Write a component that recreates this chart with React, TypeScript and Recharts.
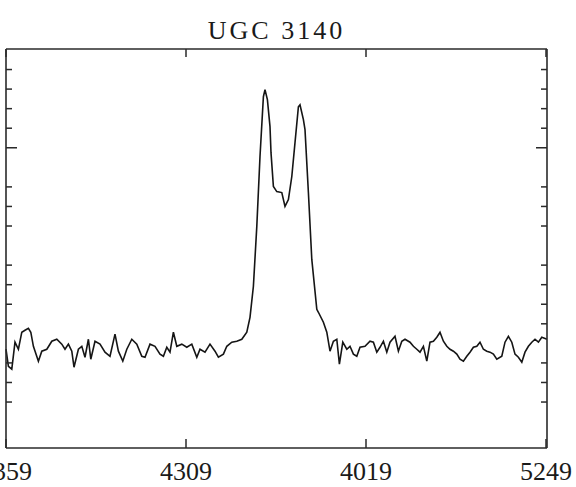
import { LineChart, Line, XAxis, YAxis } from "recharts";

// spectrum samples: channel position and flux (arbitrary units)
const channels = [
  0, 1.2, 2.9, 4.5, 6.2, 7.9, 9.5, 11.2, 12.4, 13.7, 16.2, 17.9, 20.4, 22.9, 25.4, 27.9, 29.5, 31.2, 32.9, 34.0,
  36.2, 37.9, 39.5, 41.2, 42.4, 44.5, 47.0, 49.5, 52.0, 54.5, 56.2, 58.4, 60.4, 62.9, 65.4, 67.9, 69.5, 72.0, 74.5, 77.0,
  78.7, 80.4, 82.0, 83.7, 85.4, 87.9, 90.4, 92.9, 95.4, 97.0, 99.5, 102.0, 104.5, 106.2, 108.7, 110.4, 112.9, 115.4, 117.9, 120.4,
  122.0, 123.7, 125.4, 127.0, 128.7, 129.5, 130.7, 132.0, 132.5, 133.7, 135.4, 137.9, 139.5, 141.2, 142.9, 144.5, 146.2, 147.0, 148.7, 149.5,
  151.2, 152.9, 155.4, 156.2, 158.7, 160.4, 162.0, 163.7, 165.4, 166.7, 168.4, 170.4, 172.0, 173.7, 175.4, 177.0, 179.5, 182.0, 183.7, 185.4,
  187.0, 188.7, 190.4, 192.0, 194.5, 196.2, 197.9, 199.5, 202.0, 203.7, 205.4, 207.0, 208.7, 210.4, 212.0, 213.7, 215.4, 217.0, 218.7, 220.4,
  222.0, 223.7, 225.4, 227.0, 228.7, 230.4, 232.0, 233.7, 235.4, 237.0, 238.7, 240.4, 242.0, 243.7, 245.4, 247.9, 249.5, 251.2, 252.9, 254.5,
  256.2, 257.9, 259.5, 261.2, 262.9, 264.5, 266.2, 267.9, 270.5,
];

const flux = [
  2.70, 1.83, 1.68, 3.06, 2.70, 3.57, 3.67, 3.77, 3.57, 2.85, 2.09, 2.60, 2.70, 3.11, 3.21, 2.96, 2.70, 2.96, 2.60, 1.78,
  2.70, 2.85, 2.29, 3.21, 2.19, 3.11, 2.96, 2.55, 2.34, 3.47, 2.60, 2.09, 2.70, 3.21, 2.96, 2.34, 2.29, 2.96, 2.85, 2.45,
  2.34, 2.80, 2.55, 3.57, 2.85, 2.96, 2.80, 2.96, 2.29, 2.70, 2.55, 2.96, 2.60, 2.29, 2.45, 2.85, 3.06, 3.11, 3.21, 3.57,
  4.33, 5.92, 8.98, 12.55, 15.61, 15.97, 15.46, 14.08, 12.75, 11.02, 10.76, 10.71, 10.00, 10.35, 11.53, 13.26, 15.10, 15.20, 14.44, 13.93,
  10.71, 7.29, 4.74, 4.59, 4.08, 3.57, 2.60, 3.11, 3.21, 1.94, 3.06, 2.70, 2.85, 2.45, 2.34, 2.80, 2.85, 3.11, 3.06, 2.55,
  2.80, 3.11, 2.55, 3.06, 3.36, 2.60, 3.11, 3.21, 3.06, 2.85, 2.70, 2.55, 2.85, 2.09, 3.06, 3.11, 3.31, 3.57, 3.11, 2.85,
  2.70, 2.60, 2.45, 2.19, 2.09, 2.34, 2.55, 2.80, 2.85, 3.06, 2.70, 2.60, 2.55, 2.45, 2.19, 2.34, 3.06, 3.36, 3.06, 2.45,
  2.29, 2.04, 2.55, 2.85, 3.06, 3.21, 3.06, 3.31, 3.21,
];

const xTicks = [0, 90, 180, 270];
const xTickLabels = ["3359", "4309", "4019", "5249"];
const yTicks = [0, 1, 2, 4, 5, 6, 7, 9, 10, 11, 13, 14, 15, 16, 17];
const yMajor = 13;
const xDomain = [0, 270.5];
const yDomain = [-2.35, 18.05];
const title = "UGC 3140";

const data = channels.map((ch, i) => ({ ch, flux: flux[i] }));
// top edge of the box, sampled at the tick channels
const topEdge = [...xTicks, xDomain[1]].map((ch) => ({ ch, top: yDomain[1] }));

const ink = "#2a2a2a";
const font = "'Liberation Serif', 'Times New Roman', serif";

const bottomTick = (p: any) => {
  const idx = xTicks.indexOf(p.payload.value);
  return (
    <g>
      <line x1={p.x} y1={p.y} x2={p.x} y2={p.y - 9} stroke={ink} strokeWidth={1.5} />
      <text x={p.x} y={p.y + 32} textAnchor="middle" fontFamily={font} fontSize={26} fill="#1a1a1a">
        {xTickLabels[idx]}
      </text>
    </g>
  );
};

const leftTick = (p: any) => {
  const len = p.payload.value === yMajor ? 11 : 6;
  return <line x1={p.x} y1={p.y} x2={p.x + len} y2={p.y} stroke={ink} strokeWidth={1.5} />;
};

const rightTick = (p: any) => {
  const len = p.payload.value === yMajor ? 11 : 6;
  return <line x1={p.x} y1={p.y} x2={p.x - len} y2={p.y} stroke={ink} strokeWidth={1.5} />;
};

// inward tick marks hanging from the top edge
const topTickDot = (p: any) => {
  if (!xTicks.includes(p.payload.ch)) return <g key={`td-${p.index}`} />;
  return (
    <line
      key={`td-${p.index}`}
      x1={p.cx}
      y1={p.cy}
      x2={p.cx}
      y2={p.cy + 8}
      stroke={ink}
      strokeWidth={1.5}
    />
  );
};

export default function App() {
  return (
    <div style={{ position: "relative", width: 576, height: 487, background: "#fff" }}>
      <style>{"body{margin:0}"}</style>
      <LineChart
        width={576}
        height={487}
        data={data}
        margin={{ top: 49, right: 28, bottom: 0, left: 5 }}
      >
        <XAxis
          xAxisId="b"
          dataKey="ch"
          type="number"
          domain={xDomain}
          ticks={xTicks}
          interval={0}
          height={39}
          tickSize={0}
          tickMargin={0}
          tickLine={false}
          axisLine={{ stroke: ink, strokeWidth: 1.6 }}
          tick={bottomTick}
        />
        <YAxis
          yAxisId="l"
          type="number"
          domain={yDomain}
          ticks={yTicks}
          interval={0}
          width={1}
          tickSize={0}
          tickMargin={0}
          tickLine={false}
          axisLine={{ stroke: ink, strokeWidth: 1.6 }}
          tick={leftTick}
        />
        <YAxis
          yAxisId="r"
          orientation="right"
          type="number"
          domain={yDomain}
          ticks={yTicks}
          interval={0}
          width={1}
          tickSize={0}
          tickMargin={0}
          tickLine={false}
          axisLine={{ stroke: ink, strokeWidth: 1.6 }}
          tick={rightTick}
        />
        <Line
          data={topEdge}
          xAxisId="b"
          yAxisId="r"
          type="linear"
          dataKey="top"
          stroke={ink}
          strokeWidth={1.6}
          dot={topTickDot}
          activeDot={false}
          isAnimationActive={false}
        />
        <Line
          xAxisId="b"
          yAxisId="l"
          type="linear"
          dataKey="flux"
          stroke="#151515"
          strokeWidth={1.6}
          dot={false}
          isAnimationActive={false}
        />
      </LineChart>
      <div
        style={{
          position: "absolute",
          left: 6,
          top: 18,
          width: 541,
          textAlign: "center",
          fontFamily: font,
          fontSize: 26,
          lineHeight: "26px",
          letterSpacing: 3,
          color: "#1a1a1a",
          pointerEvents: "none",
        }}
      >
        {title}
      </div>
    </div>
  );
}
